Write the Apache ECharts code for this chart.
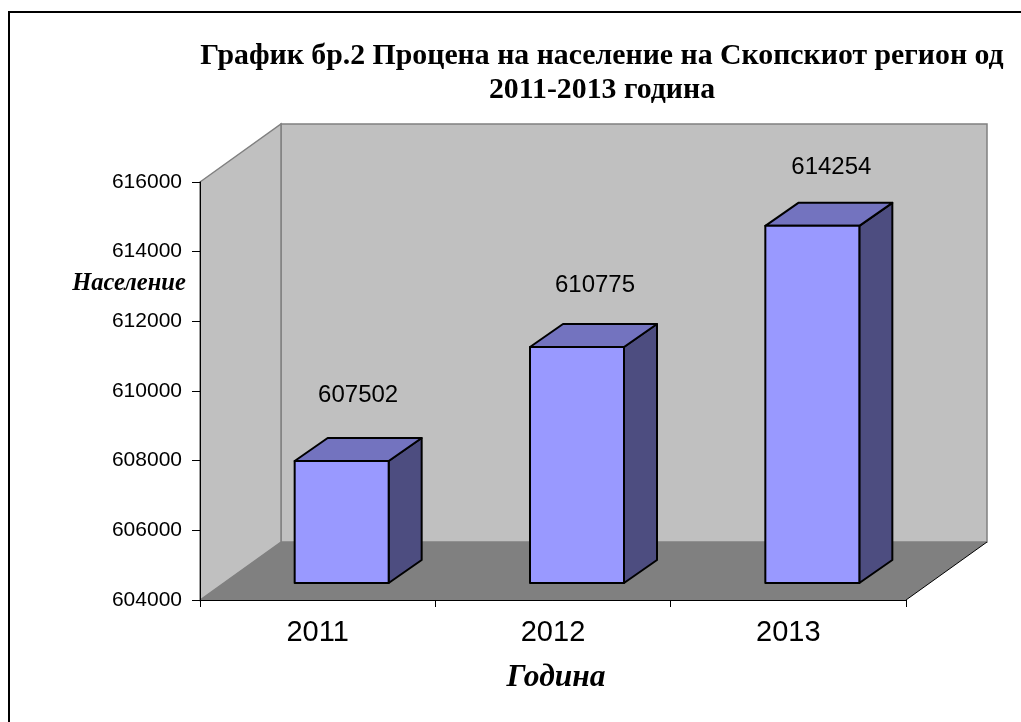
<!DOCTYPE html>
<html>
<head>
<meta charset="UTF-8">
<title>График бр.2</title>
<style type="text/css">
html, body {
	margin: 0;
	padding: 0;
	background: #fff;
}
#main {
	width: 1021px;
	height: 722px;
}
</style>
</head>
<body>
<div id="main"></div>
<script type="text/javascript" src="https://cdn.jsdelivr.net/npm/echarts@6/dist/echarts.min.js"></script>
<script type="text/javascript">
var titleLines = ["График бр.2 Процена на население на Скопскиот регион од", "2011-2013 година"];
var years = ["2011", "2012", "2013"];
var population = [607502, 610775, 614254];
var yAxisName = "Население";
var xAxisName = "Година";
var yMin = 604000;
var yMax = 616000;
var yStep = 2000;

// 3D look: depth of the whole box and of one bar, in pixels
var boxDx = 81, boxDy = -58;
var barDx = 33, barDy = -23;
var barShiftX = 24, barShiftY = -17;
var barWidth = 94;
// value labels sit a bit differently above each bar
var labelNudge = [[16.5, -66], [18, -62], [19, -58]];

var chart = echarts.init(document.getElementById('main'), null, {renderer: 'canvas'});

// walls and floor
function renderBox(params, api) {
	var cs = params.coordSys;
	var left = cs.x, right = cs.x + cs.width, top = cs.y, bottom = cs.y + cs.height;
	var wallLine = {stroke: '#808080', lineWidth: 1.5};
	return {
		type: 'group',
		children: [
			{type: 'polygon', shape: {points: [[left + boxDx, top + boxDy], [right + boxDx, top + boxDy], [right + boxDx, bottom + boxDy], [left + boxDx, bottom + boxDy]]},
				style: Object.assign({fill: '#c0c0c0'}, wallLine)},
			{type: 'polygon', shape: {points: [[left, top], [left + boxDx, top + boxDy], [left + boxDx, bottom + boxDy], [left, bottom]]},
				style: Object.assign({fill: '#c0c0c0'}, wallLine)},
			{type: 'polygon', shape: {points: [[left, bottom], [right, bottom], [right + boxDx, bottom + boxDy], [left + boxDx, bottom + boxDy]]},
				style: {fill: '#808080', stroke: null}},
			{type: 'line', shape: {x1: right, y1: bottom, x2: right + boxDx, y2: bottom + boxDy},
				style: {stroke: '#000', lineWidth: 1}}
		]
	};
}

function renderBar(params, api) {
	var idx = api.value(0);
	var topPt = api.coord([idx, api.value(1)]);
	var basePt = api.coord([idx, yMin]);
	var x0 = topPt[0] + barShiftX - barWidth / 2;
	var x1 = x0 + barWidth;
	var yt = topPt[1] + barShiftY;
	var yb = basePt[1] + barShiftY;
	var edge = {stroke: '#000', lineWidth: 2, lineJoin: 'round'};
	return {
		type: 'group',
		children: [
			{type: 'polygon', shape: {points: [[x1, yt], [x1 + barDx, yt + barDy], [x1 + barDx, yb + barDy], [x1, yb]]},
				style: Object.assign({fill: '#4d4d80'}, edge)},
			{type: 'polygon', shape: {points: [[x0, yt], [x0 + barDx, yt + barDy], [x1 + barDx, yt + barDy], [x1, yt]]},
				style: Object.assign({fill: '#7373bf'}, edge)},
			{type: 'rect', shape: {x: x0, y: yt, width: barWidth, height: yb - yt},
				style: Object.assign({fill: '#9999ff'}, edge)},
			{type: 'text', x: x0 + barWidth / 2 + labelNudge[idx][0], y: yt + labelNudge[idx][1],
				style: {text: String(api.value(1)), fill: '#000', font: '24px "Liberation Sans"', align: 'center', verticalAlign: 'middle'}}
		]
	};
}

var barData = [];
for (var i = 0; i < years.length; i++) {
	barData.push([i, population[i]]);
}

var option = {
	animation: false,
	backgroundColor: '#fff',
	graphic: [
		{type: 'polyline', shape: {points: [[9, 722], [9, 12], [1021, 12]]}, style: {fill: null, stroke: '#000', lineWidth: 2}, silent: true},
		{type: 'text', x: 602, y: 56, style: {text: titleLines[0], font: 'bold 29.8px "Liberation Serif"', fill: '#000', align: 'center', verticalAlign: 'middle'}},
		{type: 'text', x: 602, y: 90, style: {text: titleLines[1], font: 'bold 29.8px "Liberation Serif"', fill: '#000', align: 'center', verticalAlign: 'middle'}},
		{type: 'text', x: 129, y: 284, style: {text: yAxisName, font: 'italic bold 24.5px "Liberation Serif"', fill: '#000', align: 'center', verticalAlign: 'middle'}},
		{type: 'text', x: 556, y: 678, style: {text: xAxisName, font: 'italic bold 31.5px "Liberation Serif"', fill: '#000', align: 'center', verticalAlign: 'middle'}}
	],
	grid: {left: 200, top: 182, width: 706, height: 418, containLabel: false},
	xAxis: {
		type: 'category',
		z: 5,
		data: years,
		axisLine: {show: true, lineStyle: {color: '#000', width: 1}},
		axisTick: {show: true, alignWithLabel: false, length: 7, lineStyle: {color: '#000'}},
		axisLabel: {color: '#000', fontFamily: 'Liberation Sans', fontSize: 29, margin: 18}
	},
	yAxis: {
		type: 'value',
		z: 5,
		min: yMin,
		max: yMax,
		interval: yStep,
		axisLine: {show: true, lineStyle: {color: '#000', width: 1}},
		axisTick: {show: true, length: 8, lineStyle: {color: '#000'}},
		axisLabel: {color: '#000', fontFamily: 'Liberation Sans', fontSize: 21, margin: 18, formatter: function(v) { return String(v); }},
		splitLine: {show: false}
	},
	series: [
		{type: 'custom', z: 1, renderItem: renderBox, data: [[0, yMin]], silent: true},
		{type: 'custom', z: 2, renderItem: renderBar, encode: {x: 0, y: 1}, data: barData}
	]
};
chart.setOption(option);
</script>
</body>
</html>
